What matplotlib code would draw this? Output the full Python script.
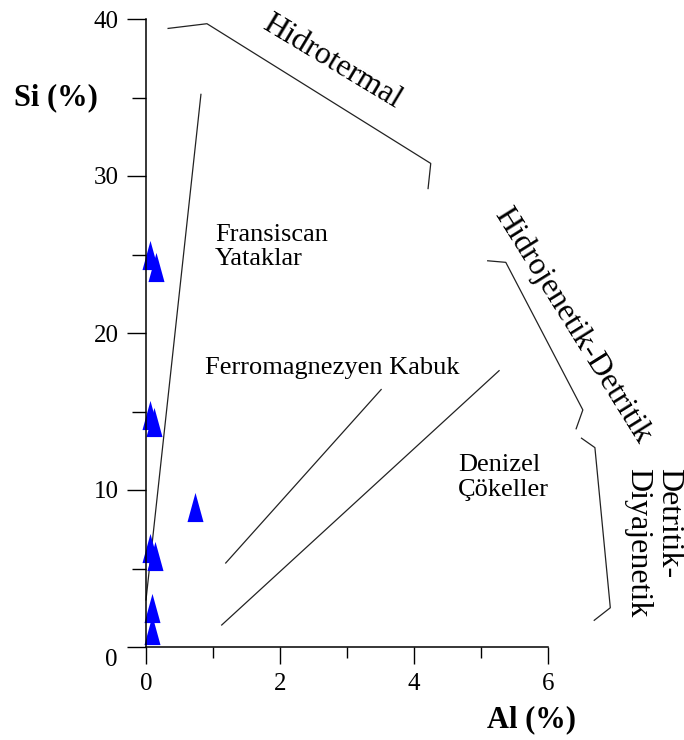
import matplotlib
matplotlib.use("Agg")
import matplotlib.pyplot as plt
from matplotlib.ticker import FixedLocator

plt.rcParams['font.family'] = ['Liberation Serif', 'DejaVu Serif']

# sample points, Al (%) vs Si (%)
al = [0.06, 0.15, 0.06, 0.12, 0.73, 0.06, 0.13, 0.09, 0.09]
si = [25.0, 24.2, 14.8, 14.3, 8.9, 6.3, 5.8, 2.5, 1.1]

# field boundaries of the diagram
fransiscan_x = [0.0, 0.82]
fransiscan_y = [3.0, 35.2]
ferro_x = [1.19, 3.51]
ferro_y = [5.35, 16.4]
denizel_x = [1.13, 5.27]
denizel_y = [1.4, 17.6]

# brackets for the labelled trends
hidrotermal_x = [0.33, 0.91, 4.25, 4.21]
hidrotermal_y = [39.4, 39.7, 30.8, 29.2]
hidrojen_x = [5.1, 5.37, 6.52, 6.42]
hidrojen_y = [24.6, 24.5, 15.1, 13.9]
diyajen_x = [6.5, 6.7, 6.93, 6.69]
diyajen_y = [13.3, 12.7, 2.5, 1.7]

xticks = [0, 2, 4, 6]
xminor = [1, 3, 5]
yticks = [0, 10, 20, 30, 40]
yminor = [5, 15, 25, 35]

fig = plt.figure(figsize=(6.84, 7.4), dpi=100)
ax = fig.add_axes([0, 0, 1, 1])
ax.set_xlim(-146 / 67, (684 - 146) / 67)
ax.set_ylim((647 - 740) / 15.7, 647 / 15.7)

# axes drawn as spines crossing at the origin
for s in ['top', 'right']:
    ax.spines[s].set_visible(False)
ax.spines['left'].set_position(('data', 0))
ax.spines['bottom'].set_position(('data', 0))
ax.spines['left'].set_bounds(0, 40)
ax.spines['bottom'].set_bounds(0, 6)
ax.spines['left'].set_linewidth(1.1)
ax.spines['bottom'].set_linewidth(1.1)
ax.patch.set_visible(False)

ax.set_xticks(xticks)
ax.xaxis.set_minor_locator(FixedLocator(xminor))
ax.set_yticks(yticks)
ax.set_yticklabels([''] + [str(v) for v in yticks[1:]])
ax.yaxis.set_minor_locator(FixedLocator(yminor))
ax.tick_params(axis='x', which='major', direction='out', length=12, width=1.0, pad=7, labelsize=18)
ax.tick_params(axis='x', which='minor', direction='out', length=8, width=1.0)
ax.tick_params(axis='y', which='major', direction='out', length=14, width=1.0, pad=5.5, labelsize=18)
ax.tick_params(axis='y', which='minor', direction='out', length=10, width=1.0)
# the zero on the Si axis sits a little below its tick
ax.text(-0.42, -0.83, str(yticks[0]), fontsize=18, ha='right', va='center')

lk = dict(color='#222222', lw=0.9)
ax.plot(fransiscan_x, fransiscan_y, **lk)
ax.plot(ferro_x, ferro_y, **lk)
ax.plot(denizel_x, denizel_y, **lk)
ax.plot(hidrotermal_x, hidrotermal_y, **lk)
ax.plot(hidrojen_x, hidrojen_y, **lk)
ax.plot(diyajen_x, diyajen_y, **lk)

tri = [(-0.55, -1), (0.55, -1), (0, 1)]
ax.plot(al, si, linestyle='none', marker=tri, markersize=21,
        color='#0000ff', markeredgewidth=0, clip_on=False)

ax.text(1.03, 25.5, 'Fransiscan\nYataklar', fontsize=19, ha='left', va='center', linespacing=1.12)
ax.text(0.88, 17.8, 'Ferromagnezyen Kabuk', fontsize=19, ha='left', va='center')
ax.text(4.66, 10.8, 'Denizel\nÇökeller', fontsize=19, ha='left', va='center', linespacing=1.15)
ax.text(2.78, 37.3, 'Hidrotermal', fontsize=23, rotation=-31, rotation_mode='anchor',
        ha='center', va='center')
ax.text(6.37, 20.5, 'Hidrojenetik-Detritik', fontsize=23, rotation=-58, rotation_mode='anchor',
        ha='center', va='center')
ax.text(7.57, 11.4, 'Detritik-\nDiyajenetik', fontsize=23, rotation=-90, rotation_mode='anchor',
        ha='left', va='center', linespacing=1.1)

ax.text(-1.34, 34.97, 'Si (%)', fontsize=22, fontweight='bold', ha='center', va='center')
ax.text(5.75, -4.65, 'Al (%)', fontsize=22, fontweight='bold', ha='center', va='center')

fig.savefig('out.png', dpi=100)
